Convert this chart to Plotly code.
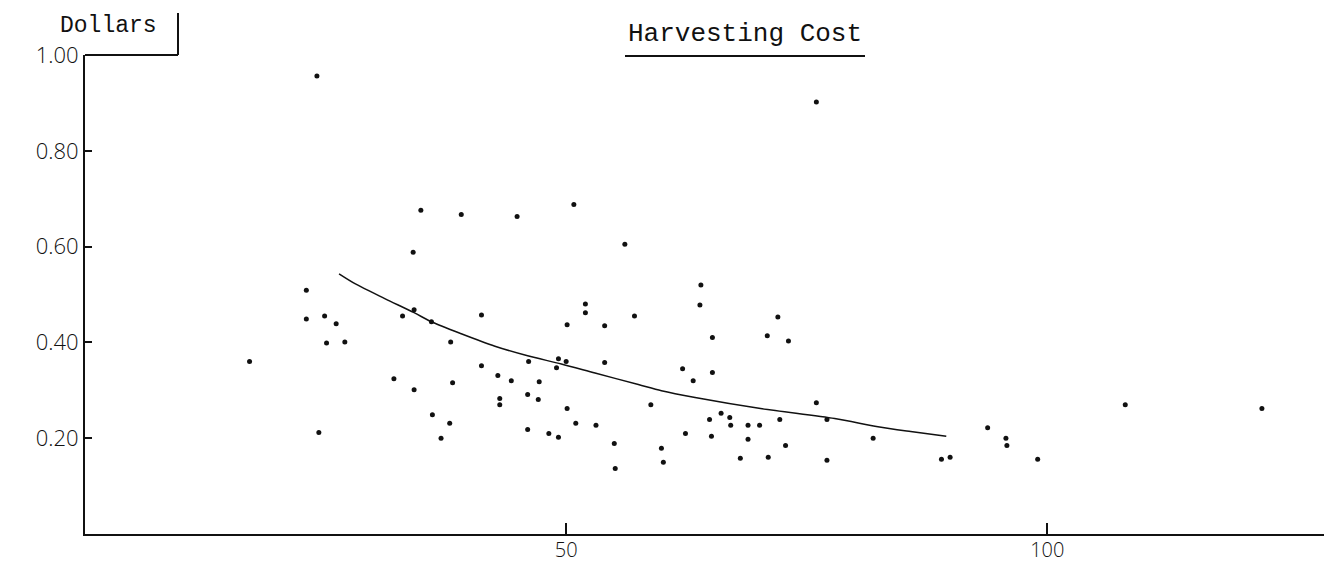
import plotly.graph_objects as go

# Scatter observations (x: volume unit, y: dollars)
pts_x = [17.1, 24.1, 23.0, 23.0, 24.3, 24.9, 26.1, 25.1, 27.0, 32.1,
         33.0, 34.1, 34.2, 34.2, 34.9, 36.0, 36.1, 37.0, 37.9, 38.0,
         38.2, 39.1, 41.2, 41.2, 42.9, 43.1, 43.1, 44.3, 44.9, 46.0,
         46.0, 46.1, 47.1, 47.2, 48.2, 49.0, 49.2, 49.2, 50.0, 50.1,
         50.1, 50.8, 51.0, 52.0, 52.0, 53.1, 54.0, 54.0, 55.0, 55.1,
         56.1, 57.1, 58.8, 59.9, 60.1, 62.1, 62.4, 63.2, 63.9, 64.0,
         64.9, 65.1, 65.2, 65.2, 66.1, 67.0, 67.1, 68.1, 68.9, 68.9,
         70.1, 70.9, 71.0, 72.0, 72.2, 72.8, 73.1, 76.0, 76.0, 77.1,
         77.1, 81.9, 89.0, 89.9, 93.8, 95.7, 95.8, 99.0, 108.1, 122.3]
pts_y = [0.360, 0.956, 0.509, 0.449, 0.212, 0.455, 0.439, 0.399, 0.401, 0.324,
         0.455, 0.588, 0.468, 0.301, 0.676, 0.443, 0.249, 0.200, 0.231, 0.401,
         0.316, 0.667, 0.457, 0.351, 0.331, 0.283, 0.270, 0.320, 0.663, 0.291,
         0.218, 0.360, 0.281, 0.318, 0.210, 0.347, 0.366, 0.202, 0.360, 0.437,
         0.262, 0.688, 0.231, 0.480, 0.462, 0.227, 0.435, 0.358, 0.189, 0.137,
         0.605, 0.455, 0.270, 0.179, 0.150, 0.345, 0.210, 0.320, 0.478, 0.520,
         0.239, 0.204, 0.410, 0.337, 0.252, 0.243, 0.227, 0.158, 0.227, 0.198,
         0.227, 0.414, 0.160, 0.453, 0.239, 0.185, 0.403, 0.274, 0.902, 0.239,
         0.154, 0.200, 0.156, 0.160, 0.222, 0.200, 0.185, 0.156, 0.270, 0.262]

# Fitted curve
curve_x = [26.4, 28.1, 31.2, 34.2, 36.0, 39.1, 42.6, 46.0, 49.5, 53.0,
           57.5, 59.9, 63.4, 70.2, 77.9, 82.4, 85.8, 89.5]
curve_y = [0.543, 0.522, 0.491, 0.462, 0.443, 0.418, 0.392, 0.372, 0.355, 0.336,
           0.312, 0.299, 0.285, 0.262, 0.241, 0.224, 0.214, 0.204]

y_ticks = [0.2, 0.4, 0.6, 0.8, 1.0]
y_labels = ["0.20", "0.40", "0.60", "0.80", "1.00"]
x_ticks = [50, 100]
x_labels = ["50", "100"]

title_text = "Harvesting Cost"
unit_text = "Dollars"

ink = "#111111"
mono = "Liberation Mono, Courier New, monospace"
letter = "Open Sans, DejaVu Sans, sans-serif"

fig = go.Figure()
fig.add_trace(go.Scatter(x=curve_x, y=curve_y, mode="lines",
                         line=dict(color=ink, width=1.5, shape="spline", smoothing=0.8),
                         hoverinfo="skip", showlegend=False))
fig.add_trace(go.Scatter(x=pts_x, y=pts_y, mode="markers",
                         marker=dict(color=ink, size=5, line=dict(width=0)),
                         showlegend=False))

W, H = 1332, 561
L, R, T, B = 77, 4, 47, 35
pw = W - L - R
ph = H - T - B

def px(xp):
    return (xp - L) / pw

def py(yp):
    return (H - B - yp) / ph

fig.update_layout(
    width=W, height=H,
    margin=dict(l=L, r=R, t=T, b=B, pad=0),
    paper_bgcolor="white", plot_bgcolor="white",
    showlegend=False,
    xaxis=dict(range=[0, 130], showgrid=False, zeroline=False,
               showline=True, linecolor=ink, linewidth=2,
               tickmode="array", tickvals=x_ticks, ticktext=x_labels,
               ticks="inside", ticklen=11, tickwidth=1.5, tickcolor=ink,
               ticklabelstandoff=-3,
               tickfont=dict(family=letter, size=20, color=ink, weight=300)),
    yaxis=dict(range=[0, 1.0], showgrid=False, zeroline=False,
               showline=True, linecolor=ink, linewidth=2,
               tickmode="array", tickvals=y_ticks, ticktext=y_labels,
               ticks="inside", ticklen=7, tickwidth=1.5, tickcolor=ink,
               tickfont=dict(family=letter, size=22, color=ink, weight=300)),
    annotations=[
        dict(text=title_text, x=px(737), y=py(26), xref="paper", yref="paper",
             showarrow=False, xanchor="center", yanchor="middle",
             font=dict(family=mono, size=26, color=ink)),
        dict(text=unit_text, x=px(100), y=py(18), xref="paper", yref="paper",
             showarrow=False, xanchor="center", yanchor="middle",
             font=dict(family=mono, size=23, color=ink)),
    ],
    shapes=[
        # underline of title
        dict(type="line", xref="paper", yref="paper",
             x0=px(617), x1=px(857), y0=py(48), y1=py(48),
             line=dict(color=ink, width=2)),
        # Dollars box
        dict(type="line", xref="paper", yref="paper",
             x0=0, x1=px(170), y0=1, y1=1, line=dict(color=ink, width=2)),
        dict(type="line", xref="paper", yref="paper",
             x0=px(170), x1=px(170), y0=1, y1=py(5), line=dict(color=ink, width=2)),
        # right border
        dict(type="line", xref="paper", yref="paper",
             x0=1, x1=1, y0=0, y1=py(15), line=dict(color=ink, width=2)),
    ],
)

fig.write_html("out.html")
